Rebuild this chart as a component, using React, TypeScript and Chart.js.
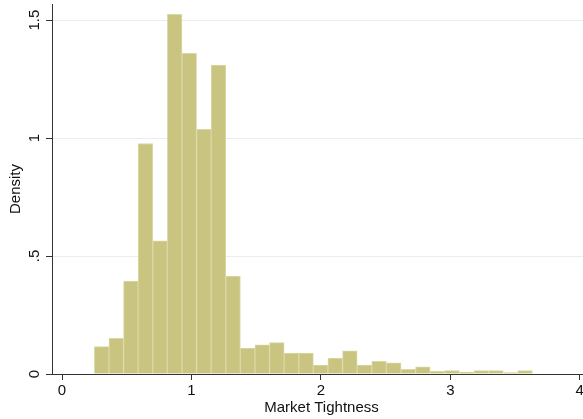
import React, { useEffect, useRef } from "react";
import { Chart, registerables } from "chart.js";

Chart.register(...registerables);

// Histogram bins (Market Tightness)
const binStart = 0.25;
const binWidth = 0.1128;
const densities = [
  0.116, 0.151, 0.394, 0.977, 0.564, 1.524, 1.359, 1.037, 1.309, 0.415,
  0.110, 0.124, 0.133, 0.089, 0.089, 0.038, 0.067, 0.098, 0.038, 0.054,
  0.047, 0.020, 0.030, 0.011, 0.014, 0.008, 0.014, 0.014, 0.006, 0.014,
];

const xTickValues = [0, 1, 2, 3, 4];
const xTickLabels = ["0", "1", "2", "3", "4"];
const yTickValues = [0, 0.5, 1, 1.5];
const yTickLabels = ["0", ".5", "1", "1.5"];

const xTitle = "Market Tightness";
const yTitle = "Density";

const FONT = '"Liberation Sans", Arial, Helvetica, sans-serif';
const TEXT_COLOR = "#111111";
const AXIS_COLOR = "#333333";
const GRID_COLOR = "#e6eef2";
const BAR_FILL = "rgb(201,196,128)";
const BAR_EDGE = "rgb(219,216,166)";

const rotatedYTicks = {
  id: "rotatedYTicks",
  afterDraw(chart: any) {
    const ys = chart.scales.y;
    const ctx = chart.ctx;
    ctx.save();
    ctx.font = `15px ${FONT}`;
    ctx.fillStyle = TEXT_COLOR;
    ctx.textAlign = "center";
    ctx.textBaseline = "alphabetic";
    ys.ticks.forEach((t: any) => {
      const idx = yTickValues.indexOf(t.value);
      if (idx < 0) return;
      const py = ys.getPixelForValue(t.value);
      ctx.save();
      ctx.translate(ys.right - 13, py);
      ctx.rotate(-Math.PI / 2);
      ctx.fillText(yTickLabels[idx], 0, 0);
      ctx.restore();
    });
    ctx.restore();
  },
};

export default function App() {
  const ref = useRef<HTMLCanvasElement | null>(null);

  useEffect(() => {
    document.body.style.margin = "0";
    if (!ref.current) return;
    const points = densities.map((d, i) => ({
      x: binStart + binWidth * (i + 0.5),
      y: d,
    }));
    const chart = new Chart(ref.current, {
      type: "bar",
      data: {
        datasets: [
          {
            data: points as any,
            backgroundColor: BAR_FILL,
            borderColor: BAR_EDGE,
            borderWidth: 1,
            categoryPercentage: 1,
            barPercentage: 1,
          },
        ],
      },
      options: {
        animation: false,
        responsive: false,
        devicePixelRatio: 1,
        layout: { padding: { top: 4, left: 0, right: 0, bottom: 0 } },
        plugins: {
          legend: { display: false },
          tooltip: { enabled: false },
          title: { display: false },
        },
        scales: {
          x: {
            type: "linear",
            min: -0.0773,
            max: 4.087,
            offset: false,
            grid: {
              offset: false,
              drawOnChartArea: false,
              drawTicks: true,
              tickLength: 6,
              tickColor: AXIS_COLOR,
            },
            border: { display: true, color: AXIS_COLOR, width: 1 },
            ticks: {
              autoSkip: false,
              maxRotation: 0,
              padding: 2,
              color: TEXT_COLOR,
              font: { family: FONT, size: 15 },
              callback: (v: any) => {
                const i = xTickValues.indexOf(Number(v));
                return i >= 0 ? xTickLabels[i] : "";
              },
            },
            afterBuildTicks: (s: any) => {
              s.ticks = xTickValues.map((v) => ({ value: v }));
            },
            afterFit: (s: any) => {
              s.height = 45;
            },
            title: {
              display: true,
              text: xTitle,
              color: TEXT_COLOR,
              font: { family: FONT, size: 15 },
              padding: { top: 0, bottom: 2.5 },
            },
          },
          y: {
            type: "linear",
            min: 0,
            max: 1.568,
            grid: {
              color: GRID_COLOR,
              lineWidth: 1,
              drawTicks: true,
              tickLength: 6,
              tickColor: AXIS_COLOR,
            },
            border: { display: true, color: AXIS_COLOR, width: 1 },
            ticks: { display: false },
            afterBuildTicks: (s: any) => {
              s.ticks = yTickValues.map((v) => ({ value: v }));
            },
            afterFit: (s: any) => {
              s.width = 52;
            },
            title: {
              display: true,
              text: yTitle,
              color: TEXT_COLOR,
              font: { family: FONT, size: 15 },
              padding: { top: 6.5, bottom: 0 },
            },
          },
        },
      },
      plugins: [rotatedYTicks],
    });
    return () => chart.destroy();
  }, []);

  return (
    <div style={{ width: 583, height: 419, overflow: "hidden", background: "#fff" }}>
      <canvas ref={ref} width={591} height={419} style={{ display: "block" }} />
    </div>
  );
}
